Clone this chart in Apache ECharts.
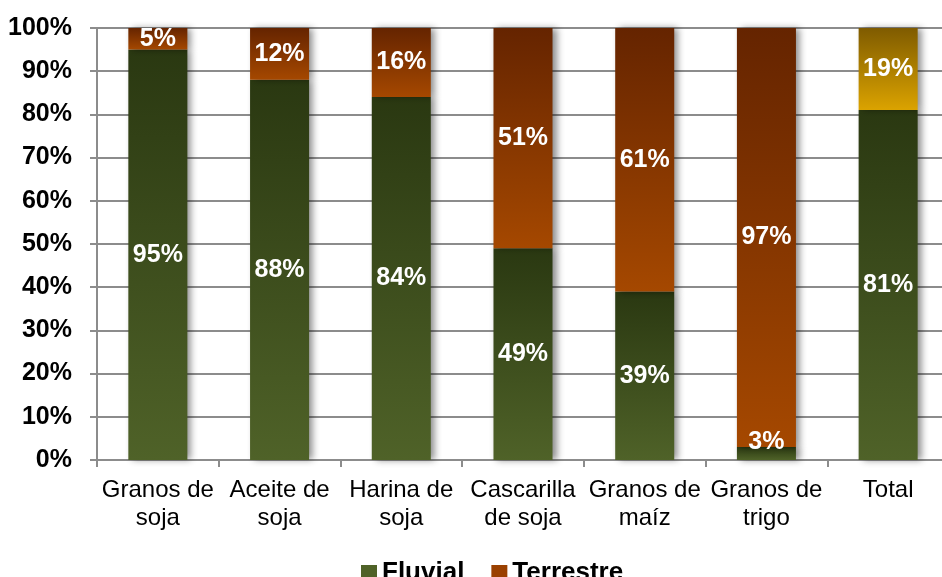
<!DOCTYPE html>
<html>
<head>
<meta charset="utf-8">
<script src="https://cdn.jsdelivr.net/npm/echarts@6/dist/echarts.min.js"></script>
<style>html,body{margin:0;padding:0;background:#fff;overflow:hidden;width:942px;height:577px;}#c{width:960px;height:577px;}</style>
</head>
<body>
<div id="c"></div>
<script>
const categories = ['Granos de\nsoja', 'Aceite de\nsoja', 'Harina de\nsoja', 'Cascarilla\nde soja', 'Granos de\nmaíz', 'Granos de\ntrigo', 'Total'];
const fluvial = [95, 88, 84, 49, 39, 3, 81];
const terrestre = [5, 12, 16, 51, 61, 97, 19];
const yTicks = [0, 10, 20, 30, 40, 50, 60, 70, 80, 90, 100];

const grad = (top, bottom) => new echarts.graphic.LinearGradient(0, 0, 0, 1, [{offset: 0, color: top}, {offset: 1, color: bottom}]);
const greenG = grad('#2a3811', '#4f6228');
const brownG = grad('#652400', '#a54800');
const goldG = grad('#7f5b00', '#dba300');

const FONT = 'Liberation Sans, Arial';
const shadow = {shadowColor: 'rgba(0,0,0,0.45)', shadowBlur: 7, shadowOffsetX: 4, shadowOffsetY: 0};
const lbl = {show: true, position: 'inside', color: '#fff', fontWeight: 'bold', fontSize: 25, fontFamily: FONT, formatter: '{c}%'};

const chart = echarts.init(document.getElementById('c'));
chart.setOption({
  animation: false,
  grid: {left: 97, right: 11, top: 28, height: 432, containLabel: false},
  legend: {
    top: 555, left: 356, itemWidth: 16, itemHeight: 16, itemGap: 27,
    icon: 'rect',
    textStyle: {fontSize: 26, fontWeight: 'bold', color: '#000', fontFamily: FONT},
    data: [{name: 'Fluvial', itemStyle: {color: '#4f6228'}}, {name: 'Terrestre', itemStyle: {color: '#9a4000'}}]
  },
  xAxis: {
    type: 'category', data: categories,
    axisLine: {lineStyle: {color: '#8c8c8c', width: 2}},
    axisTick: {show: true, length: 7, lineStyle: {color: '#8c8c8c', width: 2}},
    axisLabel: {fontSize: 24, color: '#000', fontFamily: FONT, lineHeight: 28, margin: 16, interval: 0}
  },
  yAxis: {
    type: 'value', min: 0, max: 100, interval: 10,
    axisLine: {show: true, lineStyle: {color: '#8c8c8c', width: 2}},
    axisTick: {show: true, length: 7, lineStyle: {color: '#8c8c8c', width: 2}},
    splitLine: {lineStyle: {color: '#8c8c8c', width: 2}},
    axisLabel: {fontSize: 25, fontWeight: 'bold', color: '#000', fontFamily: FONT, margin: 25,
      formatter: v => yTicks.includes(v) ? v + '%' : ''}
  },
  series: [
    {
      name: 'Fluvial', type: 'bar', stack: 's', barWidth: '48.5%',
      itemStyle: Object.assign({color: greenG}, shadow),
      label: lbl,
      data: fluvial.map((v, i) => i === 5 ? {value: v, label: {position: 'top', distance: -8}} : v)
    },
    {
      name: 'Terrestre', type: 'bar', stack: 's', barWidth: '48.5%',
      itemStyle: Object.assign({color: brownG}, shadow),
      label: lbl,
      data: terrestre.map((v, i) => i === 6 ? {value: v, itemStyle: {color: goldG}} : v)
    }
  ]
});
</script>
</body>
</html>
